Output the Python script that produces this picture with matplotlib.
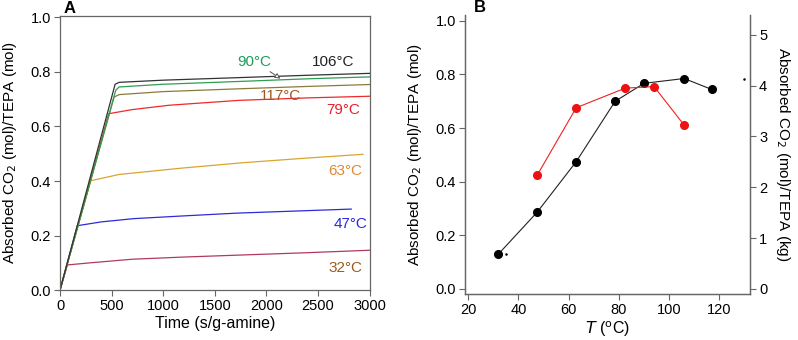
import matplotlib.pyplot as plt

plt.rcParams['font.family'] = ['Liberation Sans Narrow', 'Liberation Sans']
plt.rcParams['mathtext.fontset'] = 'custom'
plt.rcParams['mathtext.rm'] = 'Liberation Sans Narrow'
plt.rcParams['mathtext.it'] = 'Liberation Sans Narrow:italic'

# panel A: uptake curves (time s/g-amine, CO2/TEPA mol/mol)
t32 = [0, 71, 300, 700, 1200, 1800, 2400, 3000]
v32 = [0, 0.092, 0.100, 0.113, 0.121, 0.129, 0.137, 0.146]
t47 = [0, 168, 400, 718, 1200, 1706, 2300, 2822]
v47 = [0, 0.236, 0.250, 0.262, 0.272, 0.282, 0.290, 0.297]
t63 = [0, 298, 573, 1172, 1770, 2350, 2935]
v63 = [0, 0.401, 0.424, 0.447, 0.467, 0.483, 0.498]
t79 = [0, 472, 700, 1058, 1738, 2400, 3000]
v79 = [0, 0.647, 0.662, 0.678, 0.696, 0.705, 0.711]
t117 = [0, 524, 573, 1000, 1786, 2400, 3000]
v117 = [0, 0.708, 0.717, 0.728, 0.739, 0.747, 0.754]
t90 = [0, 540, 573, 1000, 1786, 2400, 3000]
v90 = [0, 0.733, 0.745, 0.755, 0.766, 0.775, 0.782]
t106 = [0, 534, 573, 1000, 1786, 2400, 3000]
v106 = [0, 0.755, 0.762, 0.770, 0.780, 0.788, 0.795]

# panel B: capacity vs temperature
T_black = [32, 47.5, 63, 78.5, 90, 106, 117]
cap_black = [0.13, 0.287, 0.475, 0.70, 0.767, 0.785, 0.744]
T_red = [47.5, 63, 82.5, 94, 106]
cap_red = [0.425, 0.676, 0.749, 0.755, 0.611]
T_dots = [35, 130]
cap_dots = [0.13, 0.785]

fig = plt.figure(figsize=(7.98, 3.4), dpi=100)
axA = fig.add_axes([0.0752, 0.147, 0.389, 0.806])
axB = fig.add_axes([0.5827, 0.1353, 0.3571, 0.8207])

spine_c = '#666666'

curves = [
    (t32, v32, '#b03a5b'),
    (t47, v47, '#2b2bd8'),
    (t63, v63, '#d9a530'),
    (t79, v79, '#ee2a2a'),
    (t117, v117, '#8a7a3a'),
    (t90, v90, '#2e9e50'),
    (t106, v106, '#333333'),
]
for t, v, c in curves:
    axA.plot(t, v, color=c, lw=0.9)

labels = [
    (1883, 0.837, '90°C', '#1f9e5a'),
    (2644, 0.837, '106°C', '#222222'),
    (2136, 0.712, '117°C', '#9c5a22'),
    (2748, 0.662, '79°C', '#e8202a'),
    (2767, 0.435, '63°C', '#e0883a'),
    (2812, 0.244, '47°C', '#2a2ad8'),
    (2767, 0.082, '32°C', '#9c5a22'),
]
for x, y, s, c in labels:
    axA.text(x, y, s, color=c, fontsize=11, ha='center', va='center')
axA.annotate('', xy=(2158, 0.770), xytext=(2013, 0.807),
             arrowprops=dict(arrowstyle='-|>', color='#555555', lw=0.7,
                             fc='white', mutation_scale=8))

axA.set_xlim(0, 3008)
axA.set_ylim(0, 1.0055)
axA.set_xticks([0, 500, 1000, 1500, 2000, 2500, 3000])
axA.set_yticks([0, 0.2, 0.4, 0.6, 0.8, 1.0])
axA.set_yticklabels(['0.0', '0.2', '0.4', '0.6', '0.8', '1.0'])
axA.set_xlabel('Time (s/g-amine)', fontsize=11.5, labelpad=2)
axA.set_ylabel('Absorbed CO$_2$ (mol)/TEPA (mol)', fontsize=11, labelpad=8)
axA.text(0.01, 1.0, 'A', transform=axA.transAxes, fontsize=12,
         fontweight='bold', ha='left', va='bottom')

axB.plot(T_black, cap_black, '-o', color='#222222', lw=0.8, ms=5.5,
         mec='black', mfc='black')
axB.plot(T_red, cap_red, '-o', color='#ee2222', lw=0.8, ms=5.5,
         mec='#ee1111', mfc='#ee1111')
axB.plot(T_dots, cap_dots, 'o', color='black', ms=0.8, ls='none')

axB.set_xlim(18.7, 132.2)
axB.set_ylim(-0.0187, 1.022)
axB.set_xticks([20, 40, 60, 80, 100, 120])
axB.set_yticks([0, 0.2, 0.4, 0.6, 0.8, 1.0])
axB.set_yticklabels(['0.0', '0.2', '0.4', '0.6', '0.8', '1.0'])
axB.set_xlabel(r'$T$ ($^{\rm o}$C)', fontsize=11.5, labelpad=2)
axB.set_ylabel('Absorbed CO$_2$ (mol)/TEPA (mol)', fontsize=11, labelpad=8)
axB.text(0.03, 1.0, 'B', transform=axB.transAxes, fontsize=12,
         fontweight='bold', ha='left', va='bottom')

axR = axB.twinx()
axR.set_ylim(-0.0187 * 5.275, 1.022 * 5.275)
axR.set_yticks([0, 1, 2, 3, 4, 5])
axR.set_ylabel('Absorbed CO$_2$ (mol)/TEPA (kg)', fontsize=11,
               rotation=270, labelpad=18)

for ax in [axA, axB, axR]:
    for s in ax.spines.values():
        s.set_color(spine_c)
        s.set_linewidth(0.9)
    ax.tick_params(direction='out', length=4.5, width=0.8, color=spine_c,
                   labelsize=10.5, pad=2)
axB.spines['top'].set_visible(False)
axR.spines['top'].set_visible(False)

fig.savefig('out.png', dpi=100)
